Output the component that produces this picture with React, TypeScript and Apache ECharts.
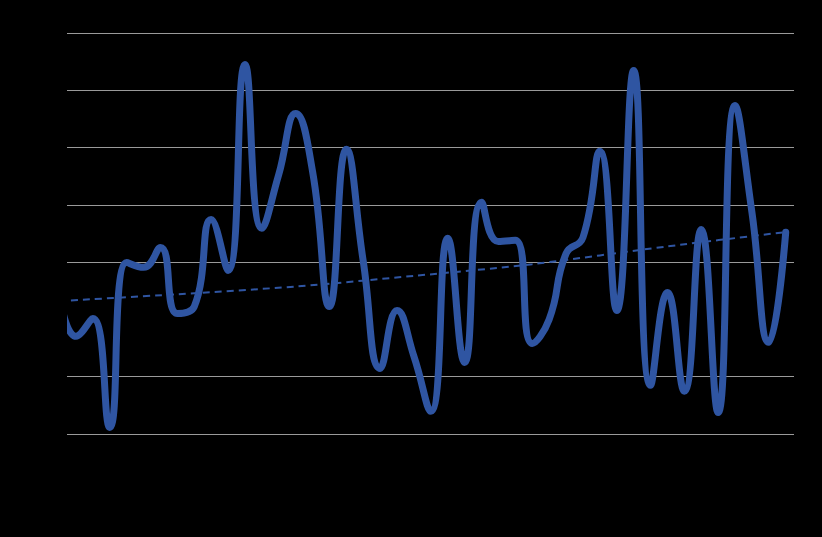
import React, { useEffect, useRef } from "react";
import * as echarts from "echarts";

// x positions (years), one per data point
const years = [
  1970, 1971, 1972, 1973, 1974, 1975, 1976, 1977, 1978, 1979,
  1980, 1981, 1982, 1983, 1984, 1985, 1986, 1987, 1988, 1989,
  1990, 1991, 1992, 1993, 1994, 1995, 1996, 1997, 1998, 1999,
  2000, 2001, 2002, 2003, 2004, 2005, 2006, 2007, 2008, 2009,
  2010, 2011, 2012, 2013,
];

// main series values
const values = [
  0.098, -0.059, 0.003, -0.377, 0.199, 0.182, 0.251, 0.021, 0.045, 0.349,
  0.171, 0.89, 0.318, 0.506, 0.719, 0.517, 0.045, 0.594, 0.203, -0.171,
  0.031, -0.129, -0.321, 0.283, -0.15, 0.409, 0.272, 0.276, -0.084, 0.0,
  0.23, 0.286, 0.587, 0.031, 0.869, -0.23, 0.094, -0.251, 0.314, -0.325,
  0.747, 0.374, -0.08, 0.304,
];

// trend line samples
const trendYears = [1970, 1977, 1984, 1991, 1998, 2006, 2013];
const trendValues = [0.064, 0.088, 0.115, 0.152, 0.193, 0.255, 0.305];

// axis settings
const yMin = -0.4;
const yMax = 1.0;
const yStep = 0.2;
const xMin = 1970.47;
const xMax = 2013.49;

const BLUE = "#2F55A2";
const GRID = "#9a9a9a";

export default function App() {
  const ref = useRef<HTMLDivElement>(null);

  useEffect(() => {
    if (!ref.current) return;
    const chart = echarts.init(ref.current, undefined, { renderer: "svg" });
    const splitColors = [GRID, GRID, "#000000", GRID, GRID, GRID, GRID, GRID];
    chart.setOption({
      animation: false,
      backgroundColor: "#000000",
      grid: { left: 67, right: 28, top: 33, bottom: 103, containLabel: false },
      xAxis: {
        type: "value",
        min: xMin,
        max: xMax,
        axisLine: { show: false },
        axisTick: { show: false },
        axisLabel: { show: false },
        splitLine: { show: false },
      },
      yAxis: {
        type: "value",
        min: yMin,
        max: yMax,
        interval: yStep,
        axisLine: { show: false },
        axisTick: { show: false },
        axisLabel: { show: false },
        splitLine: { show: true, lineStyle: { color: splitColors, width: 1 } },
      },
      graphic: [
        {
          type: "rect",
          left: 0,
          top: 0,
          z: 100,
          shape: { x: 0, y: 0, width: 67, height: 537 },
          style: { fill: "#000000" },
          silent: true,
        },
      ],
      series: [
        {
          type: "line",
          name: "Series",
          data: years.map((y, i) => [y, values[i]]),
          smooth: 0.5,
          symbol: "none",
          clip: true,
          lineStyle: { color: BLUE, width: 7, cap: "round", join: "round" },
          z: 3,
        },
        {
          type: "line",
          name: "Trend",
          data: trendYears.map((y, i) => [y, trendValues[i]]),
          smooth: 0.3,
          symbol: "none",
          clip: true,
          lineStyle: { color: BLUE, width: 2, type: [7, 5] },
          z: 4,
        },
      ],
    });
    return () => chart.dispose();
  }, []);

  return (
    <div
      ref={ref}
      style={{ position: "fixed", left: 0, top: 0, width: 822, height: 537, background: "#000" }}
    />
  );
}
